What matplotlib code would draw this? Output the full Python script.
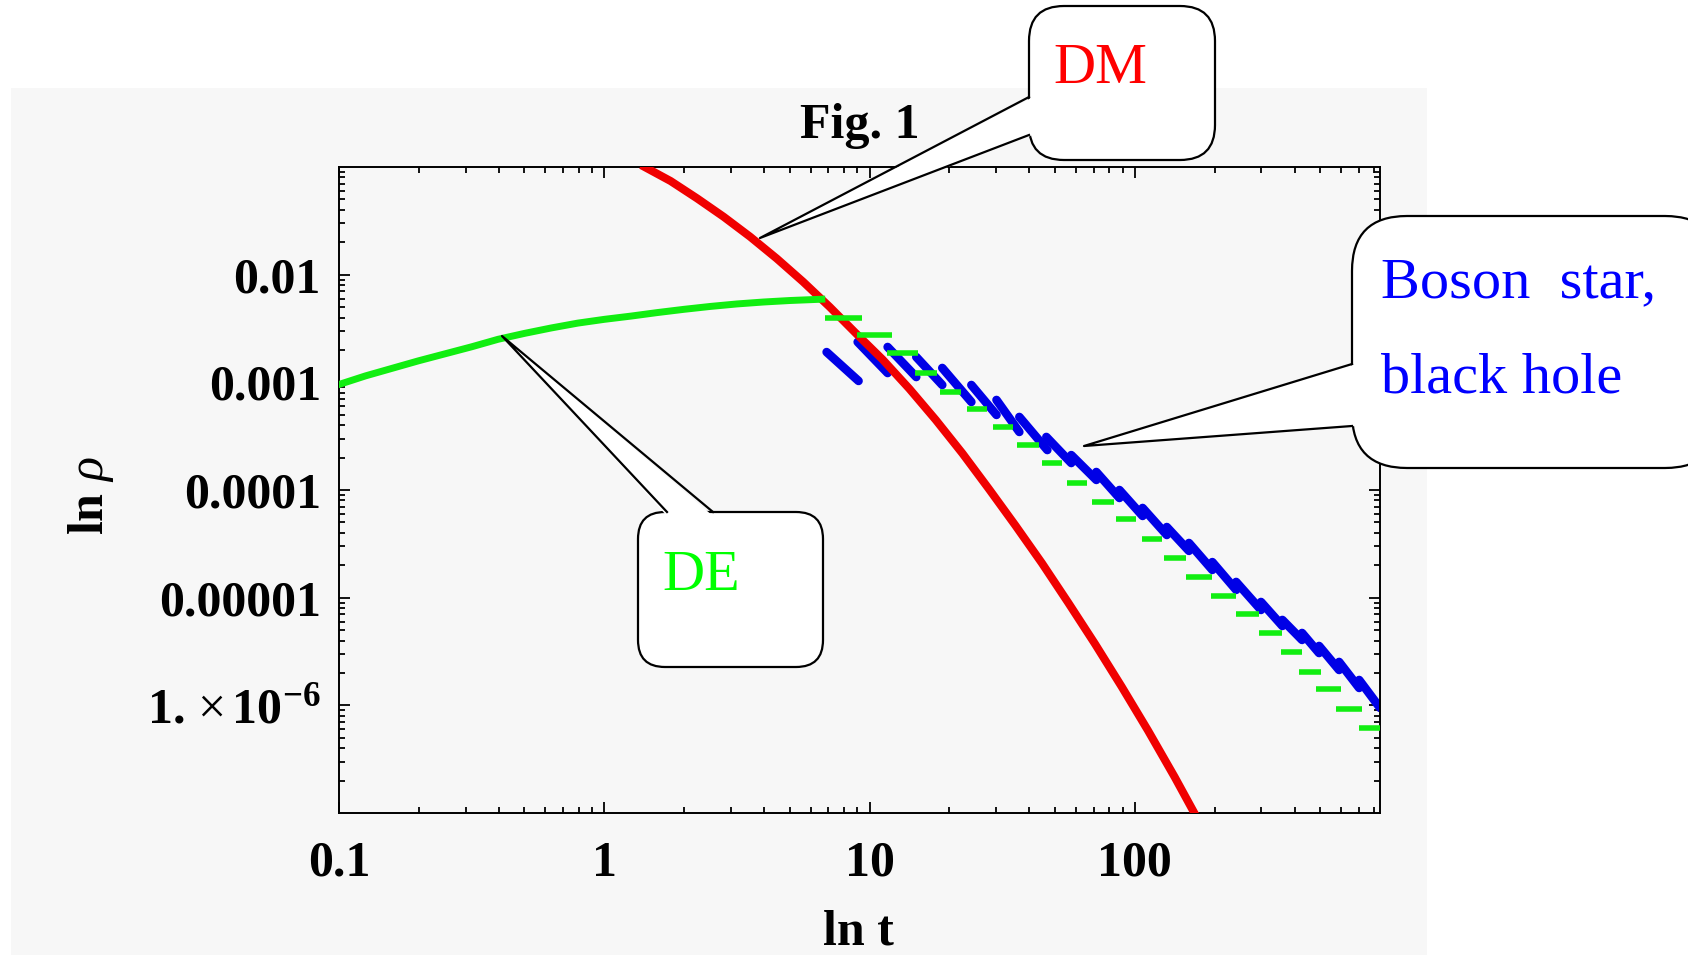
import numpy as np
import matplotlib
matplotlib.use('Agg')
import matplotlib.pyplot as plt
from matplotlib.patches import FancyBboxPatch, Polygon, Rectangle
from matplotlib.lines import Line2D
from matplotlib.transforms import IdentityTransform
from matplotlib.ticker import FixedLocator, LogLocator, NullFormatter, FuncFormatter

# --- data ---
# DM curve
dm_t = [1.42, 1.778, 2.239, 2.818, 3.548, 4.467, 5.623, 7.079, 8.913, 11.22, 14.13,
        17.78, 22.39, 28.18, 35.48, 44.67, 56.23, 70.79, 89.13, 112.2, 141.3, 169.8]
dm_rho = [0.1, 0.0741, 0.0511, 0.0345, 0.02249, 0.01413, 0.00857, 0.00501, 0.00283,
          1.622e-3, 8.71e-4, 4.47e-4, 2.19e-4, 1.023e-4, 4.68e-5, 2.09e-5, 8.91e-6,
          3.72e-6, 1.496e-6, 5.82e-7, 2.16e-7, 9.44e-8]

# DE curve (smooth part)
de_t = [0.1, 0.1259, 0.1585, 0.1995, 0.2512, 0.3162, 0.3981, 0.5012, 0.631, 0.7943,
        1.0, 1.259, 1.585, 1.995, 2.512, 3.162, 3.981, 5.012, 6.607]
de_rho = [9.55e-4, 1.148e-3, 1.349e-3, 1.585e-3, 1.841e-3, 2.138e-3, 2.512e-3,
          2.851e-3, 3.199e-3, 3.548e-3, 3.846e-3, 4.121e-3, 4.446e-3, 4.764e-3,
          5.07e-3, 5.346e-3, 5.572e-3, 5.754e-3, 5.916e-3]

# DE steps (short horizontal pieces)
de_step_t0 = [6.77, 8.93, 11.6, 14.8, 18.4, 23.4, 29.1, 36.1, 44.8, 55.7, 69.2, 85.2,
              106, 129, 156, 194, 241, 294, 356, 417, 483, 574, 701]
de_step_t1 = [9.33, 12.1, 15.2, 18.0, 22.2, 27.6, 34.6, 43.7, 53.3, 66.2, 83.7, 101,
              127, 156, 196, 241, 294, 360, 427, 504, 600, 719, 855]
de_step_rho = [3.96e-3, 2.75e-3, 1.87e-3, 1.22e-3, 8.13e-4, 5.65e-4, 3.85e-4, 2.62e-4,
               1.78e-4, 1.16e-4, 7.74e-5, 5.38e-5, 3.51e-5, 2.34e-5, 1.56e-5, 1.04e-5,
               7.05e-6, 4.70e-6, 3.13e-6, 2.04e-6, 1.42e-6, 9.25e-7, 6.16e-7]

# boson star / black hole pieces
bh_t0 = [6.89, 9.02, 11.7, 15.0, 18.8, 24.2, 30.1, 36.7, 46.4, 57.6, 71.6, 87.5,
         107, 132, 160, 196, 241, 299, 360, 427, 495, 589, 701]
bh_rho0 = [1.91e-3, 2.37e-3, 2.13e-3, 1.72e-3, 1.36e-3, 9.45e-4, 6.86e-4, 4.77e-4,
           3.11e-4, 2.11e-4, 1.47e-4, 1.0e-4, 6.81e-5, 4.53e-5, 3.22e-5, 2.14e-5,
           1.40e-5, 9.12e-6, 6.21e-6, 4.70e-6, 3.56e-6, 2.53e-6, 1.72e-6]
bh_t1 = [9.09, 11.7, 15.0, 18.8, 24.2, 30.1, 36.7, 46.8, 57.6, 71.6, 87.5, 107,
         132, 160, 196, 241, 299, 360, 427, 495, 589, 701, 841]
bh_rho1 = [1.03e-3, 1.22e-3, 1.12e-3, 9.45e-4, 6.57e-4, 4.98e-4, 3.46e-4, 2.35e-4,
           1.78e-4, 1.24e-4, 8.43e-5, 5.74e-5, 3.82e-5, 2.72e-5, 1.81e-5, 1.18e-5,
           7.69e-6, 5.46e-6, 4.05e-6, 3.06e-6, 2.13e-6, 1.45e-6, 9.44e-7]

x_ticks = [0.1, 1, 10, 100]
x_tick_labels = ['0.1', '1', '10', '100']
y_ticks = [1e-2, 1e-3, 1e-4, 1e-5, 1e-6]
y_tick_labels = ['0.01', '0.001', '0.0001', '0.00001',
                 r'$\mathbf{1.}\,{\times}\,\mathbf{10}^{\mathbf{-6}}$']

plt.rcParams['font.family'] = ['Liberation Serif', 'DejaVu Serif']
plt.rcParams['mathtext.fontset'] = 'custom'
plt.rcParams['mathtext.rm'] = 'Liberation Serif'
plt.rcParams['mathtext.it'] = 'Liberation Serif:italic'
plt.rcParams['mathtext.bf'] = 'Liberation Serif:bold'

W, H = 1688, 955
fig = plt.figure(figsize=(W / 100, H / 100), dpi=100)
fig.patch.set_facecolor('white')

# grey panel behind the plot
fig.patches.append(Rectangle((11, 0), 1416, H - 88, transform=IdentityTransform(),
                             facecolor='#f7f7f7', edgecolor='none', zorder=-5))

ax = fig.add_axes([339 / W, (H - 813) / H, (1380 - 339) / W, (813 - 167) / H])
ax.set_facecolor('#f7f7f7')
ax.set_xscale('log')
ax.set_yscale('log')
ax.set_xlim(0.1, 840)
ax.set_ylim(1e-7, 0.1)

# curves
for i in range(len(bh_t0)):
    ax.plot([bh_t0[i], bh_t1[i]], [bh_rho0[i], bh_rho1[i]], color='#0000e6', lw=6.2,
            solid_capstyle='round', zorder=2)
ax.plot(dm_t, dm_rho, color='#f00000', lw=5.8, zorder=3)
ax.plot(de_t, de_rho, color='#11ee11', lw=5, zorder=4)
ax.hlines(de_step_rho, de_step_t0, de_step_t1, color='#11ee11', lw=4, zorder=4)

# ticks
ax.xaxis.set_major_locator(FixedLocator(x_ticks))
ax.xaxis.set_major_formatter(FuncFormatter(lambda v, p: x_tick_labels[x_ticks.index(v)] if v in x_ticks else ''))
ax.yaxis.set_major_locator(FixedLocator(y_ticks))
ax.yaxis.set_major_formatter(FuncFormatter(lambda v, p: y_tick_labels[y_ticks.index(v)] if v in y_ticks else ''))
ax.xaxis.set_minor_locator(LogLocator(base=10, subs=np.arange(2, 10), numticks=20))
ax.yaxis.set_minor_locator(LogLocator(base=10, subs=np.arange(2, 10), numticks=20))
ax.xaxis.set_minor_formatter(NullFormatter())
ax.yaxis.set_minor_formatter(NullFormatter())
ax.tick_params(which='both', direction='in', top=True, right=True, width=1.3, color='black')
ax.tick_params(which='major', length=8)
ax.tick_params(which='minor', length=4)
ax.tick_params(axis='x', which='major', pad=20, labelsize=36)
ax.tick_params(axis='y', which='major', pad=13, labelsize=36)
for lab in ax.get_xticklabels() + ax.get_yticklabels():
    lab.set_fontweight('bold')
for s in ax.spines.values():
    s.set_linewidth(1.4)

ax.set_xlabel('ln t', fontsize=36, fontweight='bold')
ax.xaxis.set_label_coords(0.4986, -0.150)
ax.set_ylabel(r'ln $\rho$', fontsize=36, fontweight='bold')
ax.yaxis.set_label_coords(-0.214, 0.492)
ax.set_title('Fig. 1', fontsize=36, fontweight='bold', pad=21)


# --- speech-bubble labels (pixel positions, y from top) ---
def callout(box, r, base, tip, inward, text_lines, color):
    x0, y0, x1, y1 = box
    tr = IdentityTransform()
    fig.patches.append(FancyBboxPatch((x0, H - y1), x1 - x0, y1 - y0,
                                      boxstyle='round,pad=0,rounding_size=%d' % r,
                                      facecolor='white', edgecolor='black', lw=1.6,
                                      transform=tr, zorder=10))
    (bx0, by0), (bx1, by1) = base
    dx, dy = inward
    fig.patches.append(Polygon([(bx0 + dx, H - by0 - dy), (bx1 + dx, H - by1 - dy),
                                (tip[0], H - tip[1])], closed=True,
                               facecolor='white', edgecolor='none', transform=tr, zorder=11))
    fig.lines.append(Line2D([bx0, tip[0], bx1], [H - by0, H - tip[1], H - by1],
                            color='black', lw=1.6, transform=tr, zorder=12))
    for tx, ty, s in text_lines:
        fig.text(tx / W, 1 - ty / H, s, color=color, fontsize=42, ha='left',
                 va='baseline', zorder=13)


callout((1029, 6, 1215, 160), 35, ((1029, 97), (1029, 135)), (760, 238), (4, 0),
        [(1053, 83, 'DM')], '#ff0000')
callout((1352, 216, 1720, 468), 55, ((1352, 364), (1352, 426)), (1084, 446), (4, 0),
        [(1381, 297, 'Boson  star,'), (1381, 392, 'black hole')], '#0000ff')
callout((638, 512, 823, 667), 27, ((667, 512), (713, 512)), (502, 336), (0, 4),
        [(662, 590, 'DE')], '#00ff00')

fig.savefig('out.png', dpi=100)
